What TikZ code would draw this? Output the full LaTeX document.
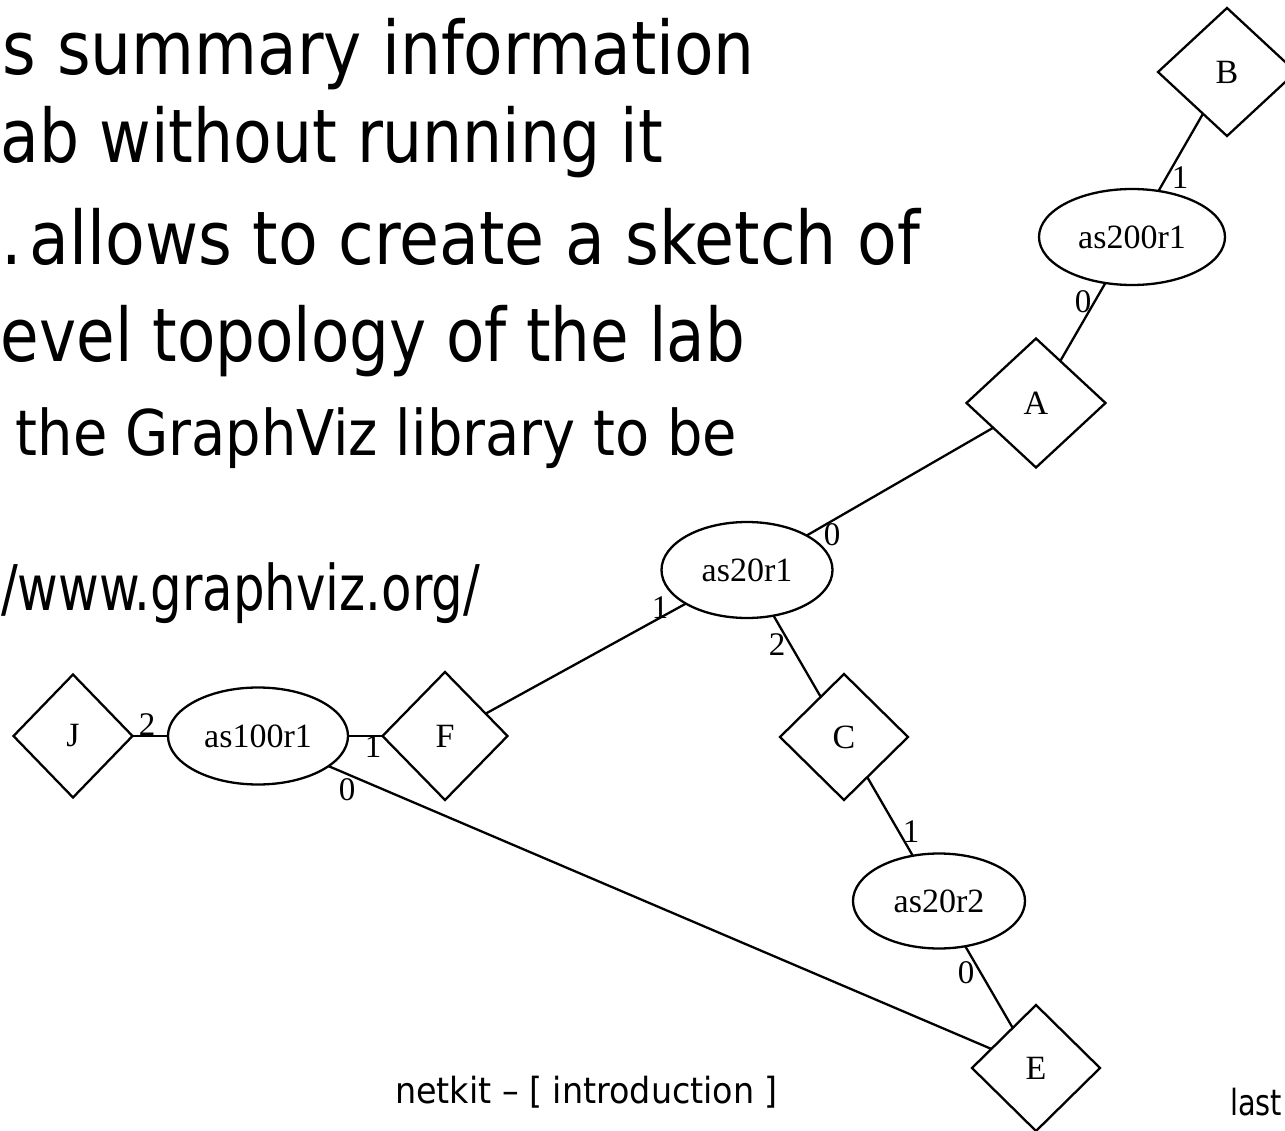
\documentclass[tikz,border=0pt]{standalone}
\usepackage{fontspec}
\setmainfont{Liberation Serif}
\newfontfamily\slidefont{DejaVu Sans Condensed}
\usetikzlibrary{shapes.geometric}
\newcommand\fitto[2]{\resizebox{#1}{\height}{#2}}
\begin{document}
\begin{tikzpicture}[x=1pt,y=-1pt,
  every node/.style={inner sep=0pt, outer sep=0pt},
  router/.style={ellipse, draw, line width=2.3pt, font=\fontsize{34}{40}\selectfont},
  hub/.style={diamond, draw, line width=2.3pt, font=\fontsize{34}{40}\selectfont},
  link/.style={line width=2.3pt},
  port/.style={font=\fontsize{33}{38}\selectfont},
  big/.style={anchor=base east, font=\slidefont\fontsize{74}{80}\selectfont},
  mid/.style={anchor=base east, font=\slidefont\fontsize{63}{70}\selectfont},
  foot/.style={font=\slidefont\fontsize{36}{40}\selectfont}]
\useasboundingbox (0,0) rectangle (1285,1131);

% slide text
\node[big] (t1) at (755,75) {\fitto{752pt}{s summary information}};
\node[big] (t2) at (663,163) {\fitto{662pt}{ab without running it}};
\node[big] (t3) at (920,265) {\fitto{918pt}{.\kern0.1em allows to create a sketch of}};
\node[big] (t4) at (745,362) {\fitto{744pt}{evel topology of the lab}};
\node[mid] (t5) at (737,455) {\fitto{721pt}{the GraphViz library to be}};
\node[mid] (t6) at (480,610) {\fitto{479pt}{/www.graphviz.org/}};
\node[foot, anchor=base west] (f1) at (395,1103) {\fitto{383pt}{netkit – [ introduction ]}};
\node[foot, anchor=base west] (f2) at (1230,1115) {\fitto{52pt}{last}};

% graph nodes
\node[hub, minimum width=138pt, minimum height=128pt] (B) at (1227,72) {B};
\node[router, minimum width=186pt, minimum height=96pt] (as200r1) at (1132,237) {as200r1};
\node[hub, minimum width=139pt, minimum height=129pt] (A) at (1036,403) {A};
\node[router, minimum width=171pt, minimum height=96pt] (as20r1) at (747,570) {as20r1};
\node[hub, minimum width=128pt, minimum height=126pt] (C) at (844,737) {C};
\node[router, minimum width=172pt, minimum height=95pt] (as20r2) at (939,901) {as20r2};
\node[hub, minimum width=128pt, minimum height=126pt] (E) at (1036,1068) {E};
\node[hub, minimum width=119pt, minimum height=123pt] (J) at (73,736) {J};
\node[router, minimum width=180pt, minimum height=97pt] (as100r1) at (258,736) {as100r1};
\node[hub, minimum width=125pt, minimum height=128pt] (F) at (445,736) {F};

% links
\draw[link] (B) -- (as200r1);
\draw[link] (as200r1) -- (A);
\draw[link] (A) -- (as20r1);
\draw[link] (as20r1) -- (F);
\draw[link] (as20r1) -- (C);
\draw[link] (C) -- (as20r2);
\draw[link] (as20r2) -- (E);
\draw[link] (J) -- (as100r1);
\draw[link] (as100r1) -- (F);
\draw[link] (as100r1) -- (E);

% port labels
\node[port] (p1) at (1180,178) {1};
\node[port] (p2) at (1083,302) {0};
\node[port] (p3) at (832,535) {0};
\node[port] (p4) at (660,608) {1};
\node[port] (p5) at (777,645) {2};
\node[port] (p6) at (911,832) {1};
\node[port] (p7) at (966,973) {0};
\node[port] (p8) at (147,725) {2};
\node[port] (p9) at (373,747) {1};
\node[port] (p10) at (347,790) {0};
\end{tikzpicture}
\end{document}
